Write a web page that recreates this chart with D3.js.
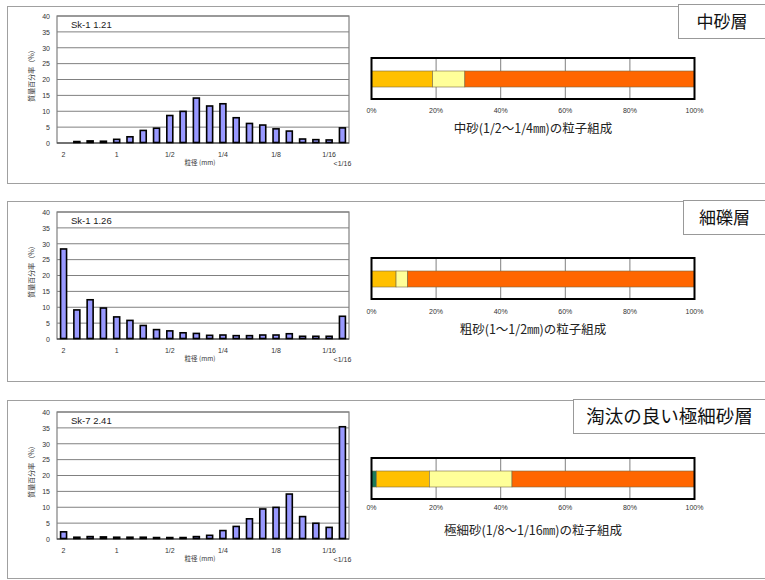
<!DOCTYPE html>
<html><head><meta charset="utf-8">
<script src="https://cdn.jsdelivr.net/npm/d3@7"></script>
<style>body{margin:0;background:#fff;}svg{display:block;}</style>
</head><body>
<svg id="c" width="765" height="580"></svg>
<script>
// ---- data ----
const phiClasses = ["-1.00","-0.75","-0.50","-0.25","0.00","0.25","0.50","0.75","1.00","1.25","1.50","1.75","2.00","2.25","2.50","2.75","3.00","3.25","3.50","3.75","4.00",">4"];
const tickLabels = {"-1.00":"2","0.00":"1","1.00":"1/2","2.00":"1/4","3.00":"1/8","4.00":"1/16"};
const lastLabel = "<1/16";
const yTicks = [0,5,10,15,20,25,30,35,40];
const pctTicks = [0,20,40,60,80,100];

const sampleNames = ["Sk-1 1.21","Sk-1 1.26","Sk-7 2.41"];
const layerTitles = ["中砂層","細礫層","淘汰の良い極細砂層"];
const captions = ["中砂(1/2～1/4㎜)の粒子組成","粗砂(1～1/2㎜)の粒子組成","極細砂(1/8～1/16㎜)の粒子組成"];

const valuesA = [0,0.3,0.5,0.4,1.0,1.8,3.8,4.5,8.5,9.8,14.0,11.5,12.2,7.8,6.0,5.5,4.3,3.6,1.1,0.9,0.8,4.6];
const valuesB = [28.2,9.0,12.2,9.6,6.8,5.7,4.1,2.8,2.4,1.8,1.6,1.0,1.1,0.9,0.9,1.1,1.1,1.5,0.7,0.7,0.7,7.0];
const valuesC = [2.1,0.4,0.6,0.5,0.4,0.4,0.4,0.3,0.3,0.3,0.6,1.0,2.5,3.8,6.2,9.3,9.8,14.0,6.9,4.8,3.5,35.2];

const compKeys = ["c1","c2","c3","c4"];
const compColors = ["#1E7A5A","#FFC000","#FFFF99","#FF6600"];
const compA = [0,18.9,10.0,71.1];
const compB = [0,7.6,3.6,88.8];
const compC = [1.5,16.4,25.6,56.5];

const panels = [
  {vals: valuesA, comp: compA, top: 0},
  {vals: valuesB, comp: compB, top: 196},
  {vals: valuesC, comp: compC, top: 396}
];
const frames = [[6,183],[201,381],[400,578]];
const compY = [58,258,458];
const pctLabelY = [113,314,510];
const capY = [133,334,535];
const titleBoxes = [[678,4,88,34],[683,200,83,34],[573,399,193,34]];
const titleSizes = [17,17,18.5];

const svg = d3.select("#c");
const numFont = "'Liberation Sans', Arial, sans-serif";
const jpFont = "'Noto Sans CJK JP', sans-serif";

panels.forEach((p, i) => {
  const g = svg.append("g");
  // outer frame
  g.append("rect").attr("x",7.5).attr("y",frames[i][0]+0.5).attr("width",770).attr("height",frames[i][1]-frames[i][0])
    .attr("fill","none").attr("stroke","#a0a0a0").attr("stroke-width",1);

  // histogram
  const x = d3.scaleBand().domain(phiClasses).range([57,349]).paddingInner(0.55).paddingOuter(0.27);
  const y = d3.scaleLinear().domain([0,40]).range([143+p.top,16+p.top]);
  const hg = g.append("g");
  hg.append("rect").attr("x",57).attr("y",y(40)).attr("width",292).attr("height",y(0)-y(40))
    .attr("fill","#fff").attr("stroke","#808080").attr("stroke-width",1.2);
  hg.selectAll("line.grid").data(yTicks.slice(1)).enter().append("line")
    .attr("x1",57).attr("x2",349).attr("y1",d=>y(d)).attr("y2",d=>y(d))
    .attr("stroke","#808080").attr("stroke-width",1);
  const yAxis = d3.axisLeft(y).tickValues(yTicks).tickSize(0).tickPadding(7);
  hg.append("g").attr("transform","translate(57,0)").call(yAxis)
    .call(s=>s.select(".domain").remove())
    .selectAll("text").attr("font-size",7).attr("font-family",numFont).attr("fill","#333");
  hg.append("line").attr("x1",57).attr("x2",349).attr("y1",y(0)).attr("y2",y(0)).attr("stroke","#333").attr("stroke-width",1.2);
  hg.selectAll("rect.bar").data(p.vals).enter().append("rect").attr("class","bar")
    .attr("x",(d,k)=>x(phiClasses[k])).attr("width",x.bandwidth())
    .attr("y",d=>y(d)-0.5).attr("height",d=>Math.max(0,y(0)-y(d)))
    .attr("fill","#9999FF").attr("stroke","#000").attr("stroke-width",1.6);
  const xAxis = d3.axisBottom(x).tickValues(Object.keys(tickLabels)).tickFormat(d=>tickLabels[d]).tickSize(0).tickPadding(9);
  hg.append("g").attr("transform",`translate(0,${y(0)})`).call(xAxis)
    .call(s=>s.select(".domain").remove())
    .selectAll("text").attr("font-size",7).attr("font-family",numFont).attr("fill","#333");
  hg.append("text").attr("x",x(">4")+x.bandwidth()/2).attr("y",y(0)+23).attr("text-anchor","middle")
    .attr("font-size",7).attr("font-family",numFont).attr("fill","#333").text(lastLabel);
  hg.append("text").attr("x",200).attr("y",y(0)+22).attr("text-anchor","middle")
    .attr("font-size",6.5).attr("font-family",jpFont).attr("fill","#333").text("粒径 (mm)");
  hg.append("text").attr("transform",`translate(34,${p.top+74}) rotate(-90)`).attr("text-anchor","middle")
    .attr("font-size",7).attr("font-family",jpFont).attr("fill","#333").text("質量百分率（%）");
  hg.append("text").attr("x",71).attr("y",p.top+28).attr("font-size",9.5).attr("font-family",numFont).attr("fill","#222").text(sampleNames[i]);

  // composition bar
  const cx = d3.scaleLinear().domain([0,100]).range([371.5,694.5]);
  const cy0 = compY[i], cy1 = compY[i]+41;
  const cg = g.append("g");
  cg.append("rect").attr("x",cx(0)).attr("y",cy0).attr("width",cx(100)-cx(0)).attr("height",cy1-cy0).attr("fill","#fff");
  cg.selectAll("line.pg").data(pctTicks.slice(1,-1)).enter().append("line")
    .attr("x1",d=>cx(d)).attr("x2",d=>cx(d)).attr("y1",cy0).attr("y2",cy1).attr("stroke","#808080").attr("stroke-width",1);
  let acc = 0;
  const segs = p.comp.map((v,k)=>{const s={k:compKeys[k],x0:acc,x1:acc+v,c:compColors[k]};acc+=v;return s;}).filter(s=>s.x1>s.x0);
  cg.selectAll("rect.seg").data(segs).enter().append("rect")
    .attr("x",d=>cx(d.x0)).attr("width",d=>cx(d.x1)-cx(d.x0)).attr("y",cy0+13).attr("height",16)
    .attr("fill",d=>d.c).attr("stroke","#7a6a40").attr("stroke-width",0.6);
  cg.append("rect").attr("x",cx(0)).attr("y",cy0).attr("width",cx(100)-cx(0)).attr("height",cy1-cy0)
    .attr("fill","none").attr("stroke","#000").attr("stroke-width",2);
  cg.selectAll("text.pl").data(pctTicks).enter().append("text")
    .attr("x",d=>cx(d)).attr("y",pctLabelY[i]).attr("text-anchor","middle")
    .attr("font-size",7).attr("font-family",numFont).attr("fill","#333").text(d=>d+"%");
  cg.append("text").attr("x",533).attr("y",capY[i]).attr("text-anchor","middle")
    .attr("font-size",12.5).attr("font-family",jpFont).attr("fill","#222").text(captions[i]);

  // title box
  const tb = titleBoxes[i];
  g.append("rect").attr("x",tb[0]+0.5).attr("y",tb[1]+0.5).attr("width",tb[2]).attr("height",tb[3])
    .attr("fill","#fff").attr("stroke","#999");
  g.append("text").attr("x",tb[0]+tb[2]/2).attr("y",tb[1]+tb[3]/2+6.5).attr("text-anchor","middle")
    .attr("font-size",titleSizes[i]).attr("font-family",jpFont).attr("fill","#111").text(layerTitles[i]);
});
</script>
</body></html>
